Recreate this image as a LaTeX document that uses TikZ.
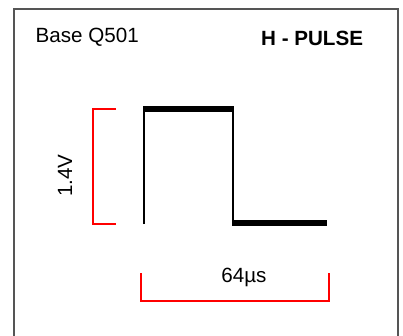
\documentclass[tikz,border=0pt]{standalone}
\usepackage{fontspec}
\setmainfont{Liberation Sans}
\usetikzlibrary{positioning}
\definecolor{frgray}{RGB}{85, 85, 85}
\tikzset{
  labeltext/.style = {
    font=\fontsize{20.6}{24}\selectfont,
    inner sep=0pt
  },
  bracket/.style = {
    draw=red,
    line width=1.6pt
  },
  pulseedge/.style = {
    draw=black,
    line width=2.2pt
  },
  pulselevel/.style = {
    draw=black,
    line width=6pt
  }
}
\begin{document}
\begin{tikzpicture}[x=1pt, y=-1pt]
  \useasboundingbox (0,0) rectangle (403,336);
  \clip (0,0) rectangle (403,336);

  % Frame
  \draw[frgray, line width=1.6pt] (14,345) -- (14,9) -- (398,9) -- (398,345);

  % Titles
  \node[labeltext, anchor=base west] (base) at (35.5,42.7) {Base Q501};
  \node[labeltext, font=\fontsize{20.6}{24}\selectfont\bfseries, anchor=base west] (title) at (261,46) {H - PULSE};

  % Pulse
  \draw[pulseedge] (144,224) -- (144,108.7);
  \draw[pulselevel] (143,108.7) -- (234,108.7);
  \draw[pulseedge] (233,108.7) -- (233,222.5);
  \draw[pulselevel] (232,222.5) -- (327,222.5);

  % Amplitude bracket
  \draw[bracket] (116,109) -- (93,109) -- (93,224) -- (116,224);
  \node[labeltext, rotate=90, anchor=base] (amp) at (72,175.5) {1.4V};

  % Period bracket
  \draw[bracket] (141,273) -- (141,301) -- (329,301) -- (329,273);
  \node[labeltext, anchor=base] (period) at (244,282) {64µs};
\end{tikzpicture}
\end{document}
